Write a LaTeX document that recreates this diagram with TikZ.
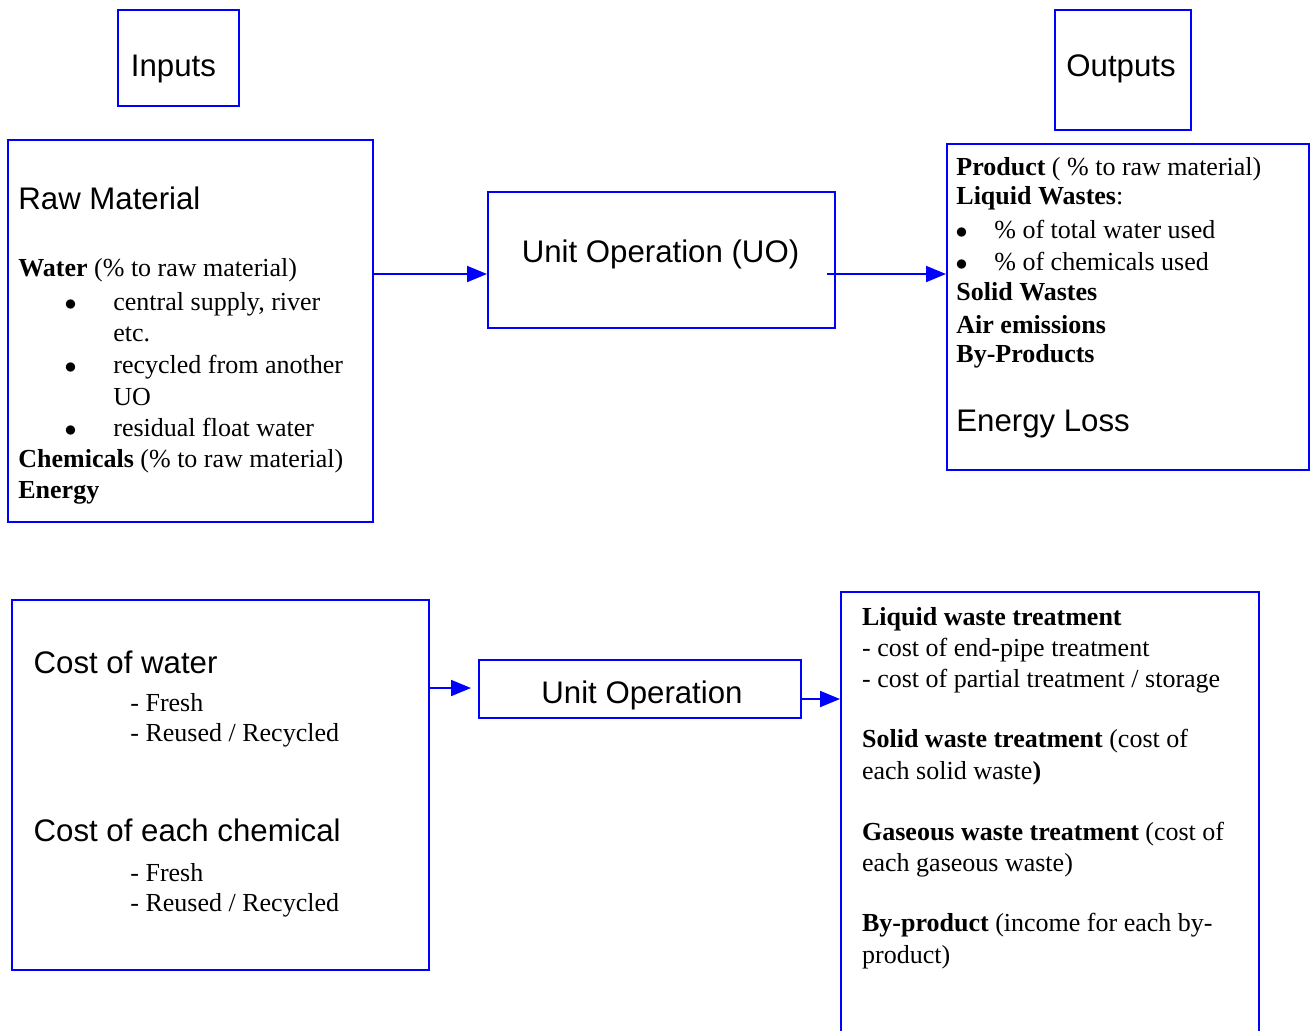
\documentclass[tikz,border=0pt]{standalone}
\usepackage{fontspec}
\setmainfont{Liberation Serif}
\newfontfamily\arialfont{Liberation Sans}
\usepackage{tikz}
\usetikzlibrary{positioning}
\usetikzlibrary{arrows.meta}
\definecolor{uoblue}{RGB}{0,0,255}
\tikzset{box/.style={draw=uoblue,line width=1pt,inner sep=0pt}}
\tikzset{flow/.style={draw=uoblue,line width=1pt,-{Triangle[length=10pt,width=8pt]}}}
\tikzset{sans/.style={font=\arialfont\fontsize{15.6}{18}\selectfont,inner sep=0pt,anchor=base west}}
\tikzset{serif/.style={font=\fontsize{13}{16}\selectfont,inner sep=0pt,anchor=base west}}
\tikzset{dot/.style={serif,anchor=base}}

\begin{document}
\begin{tikzpicture}[x=0.5pt,y=-0.5pt]
        \useasboundingbox (0,0) rectangle (1310,1030);
        % headings
        \node[box,minimum width=60.5pt,minimum height=48pt] (inputs) at (178.5,58) {};
        \node[sans] (inlabel) at (130.5,76.7) {Inputs};
        \node[box,minimum width=68pt,minimum height=60pt] (outputs) at (1123,70) {};
        \node[sans] (outlabel) at (1066,76) {Outputs};

        % raw material
        \node[box,minimum width=182.5pt,minimum height=191pt] (raw) at (190.5,331) {};
        \node[sans] (rawtitle) at (18,209.3) {Raw Material};
        \node[serif] (water) at (18,276.7) {\textbf{Water} (\% to raw material)};
        \foreach \y [count=\i] in {310,373,436.7}
            \node[dot] (wb\i) at (70.7,\y) {$\bullet$};
        \node[serif] (w1) at (113,310) {central supply, river};
        \node[serif] (w1b) at (113,341.7) {etc.};
        \node[serif] (w2) at (113,373) {recycled from another};
        \node[serif] (w2b) at (113,405) {UO};
        \node[serif] (w3) at (113,436.7) {residual float water};
        \node[serif] (chem) at (18,467) {\textbf{Chemicals} (\% to raw material)};
        \node[serif] (energy) at (18,498) {\textbf{Energy}};

        % unit operation
        \node[box,minimum width=173.5pt,minimum height=68pt] (uo) at (661.5,260) {};
        \node[sans,anchor=base] (uolabel) at (660.5,262) {Unit Operation (UO)};

        % outputs
        \node[box,minimum width=181pt,minimum height=163pt] (out) at (1128,307) {};
        \node[serif] (product) at (956,175) {\textbf{Product} ( \% to raw material)};
        \node[serif] (liquid) at (956,204) {\textbf{Liquid Wastes}:};
        \foreach \y [count=\i] in {238.3,270}
            \node[dot] (lb\i) at (961.7,\y) {$\bullet$};
        \node[serif] (l1) at (994,238.3) {\% of total water used};
        \node[serif] (l2) at (994,270) {\% of chemicals used};
        \node[serif] (solid) at (956,300.7) {\textbf{Solid Wastes}};
        \node[serif] (air) at (956,333.3) {\textbf{Air emissions}};
        \node[serif] (byprod) at (956,362.7) {\textbf{By-Products}};
        \node[sans] (eloss) at (956,431.7) {Energy Loss};

            \coordinate (in1) at ([yshift=-7pt]uo.west);
            \path[flow] (in1 -| raw.east) -- (in1);
            \coordinate (out1) at ([xshift=-4.5pt,yshift=-7pt]uo.east);
            \path[flow] (out1) -- (out1 -| out.west);

        % costs
        \node[box,minimum width=208.5pt,minimum height=185pt] (cost) at (220.5,785) {};
        \node[sans] (cwater) at (33.3,673.3) {Cost of water};
        \node[serif] (cw1) at (130,711.7) {- Fresh};
        \node[serif] (cw2) at (130,741.7) {- Reused / Recycled};
        \node[sans] (cchem) at (33.3,841.7) {Cost of each chemical};
        \node[serif] (cc1) at (130,881.7) {- Fresh};
        \node[serif] (cc2) at (130,911.7) {- Reused / Recycled};

        \node[box,minimum width=161pt,minimum height=29pt] (uo2) at (640,689) {};
        \node[sans,anchor=base] (uo2label) at (642,703) {Unit Operation};

        % treatment
        \node[box,minimum width=209pt,minimum height=226pt] (treat) at (1050,818) {};
        \node[serif] (tliq) at (861.7,625) {\textbf{Liquid waste treatment}};
        \node[serif] (tliq1) at (861.7,656.7) {- cost of end-pipe treatment};
        \node[serif] (tliq2) at (861.7,687.3) {- cost of partial treatment / storage};
        \node[serif] (tsol) at (861.7,747.3) {\textbf{Solid waste treatment} (cost of};
        \node[serif] (tsolb) at (861.7,779.3) {each solid waste\textbf{)}};
        \node[serif] (tgas) at (861.7,840) {\textbf{Gaseous waste treatment} (cost of};
        \node[serif] (tgasb) at (861.7,871.7) {each gaseous waste)};
        \node[serif] (tby) at (861.7,931.7) {\textbf{By-product} (income for each by-};
        \node[serif] (tbyb) at (861.7,963.3) {product)};

            \coordinate (in2) at ([xshift=-3.5pt,yshift=0.5pt]uo2.west);
            \path[flow] (in2 -| cost.east) -- (in2);
            \coordinate (out2) at ([yshift=-5pt]uo2.east);
            \path[flow] (out2) -- (out2 -| treat.west);
    \end{tikzpicture}
\end{document}
